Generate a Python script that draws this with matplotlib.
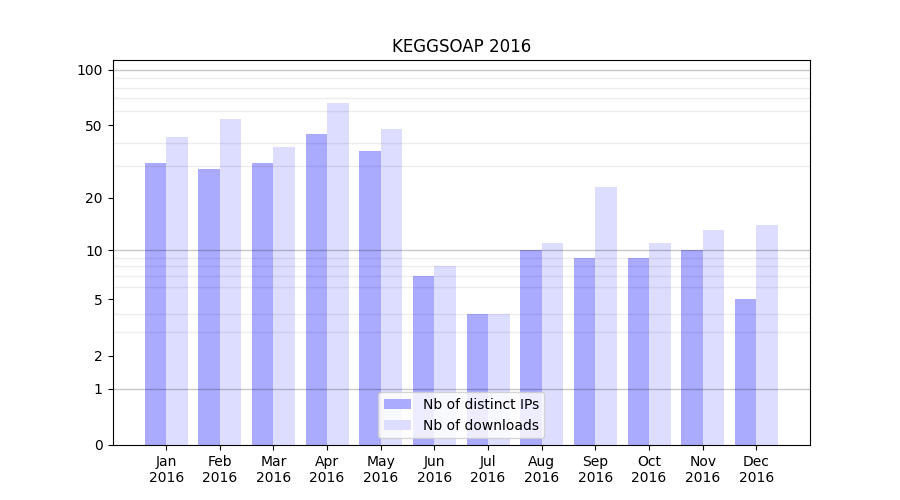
import numpy as np
import matplotlib.pyplot as plt

months = ["Jan", "Feb", "Mar", "Apr", "May", "Jun",
          "Jul", "Aug", "Sep", "Oct", "Nov", "Dec"]
year = "2016"
distinct_ips = [31, 29, 31, 45, 36, 7, 4, 10, 9, 9, 10, 5]
downloads = [43, 54, 38, 66, 48, 8, 4, 11, 23, 11, 13, 14]


def fwd(y):
    return np.log10(np.clip(y, 0, None) + 1)


def inv(y):
    return 10 ** y - 1


def main():
    fig, ax = plt.subplots(figsize=(9, 5), dpi=100)
    x = np.arange(len(months))
    width = 0.4

    ax.bar(x - width, distinct_ips, width, align="edge",
           color="#aaaaff", label="Nb of distinct IPs")
    ax.bar(x, downloads, width, align="edge",
           color="#ddddff", label="Nb of downloads")

    ax.set_yscale("function", functions=(fwd, inv))
    ax.set_ylim(0, 113)
    ax.set_xlim(-1, 12)

    labeled = [0, 1, 2, 5, 10, 20, 50, 100]
    ax.set_yticks(labeled)
    ax.set_yticklabels([str(t) for t in labeled])
    minor = [2, 3, 4, 5, 6, 7, 8, 9, 20, 30, 40, 50, 60, 70, 80, 90]
    ax.set_yticks(minor, minor=True)
    ax.tick_params(axis="y", which="minor", length=0)
    ax.grid(True, axis="y", which="minor", color="black", alpha=0.07,
            linewidth=1)
    # darker lines at the decades
    for d in (1, 10, 100):
        ax.axhline(d, color="black", alpha=0.22, linewidth=1, zorder=1.5)

    ax.set_xticks(x)
    ax.set_xticklabels([f"{m}\n{year}" for m in months])

    ax.set_title("KEGGSOAP 2016")
    ax.legend(loc="lower center")

    plt.savefig("out.png", dpi=100)
    plt.close()


if __name__ == "__main__":
    main()
